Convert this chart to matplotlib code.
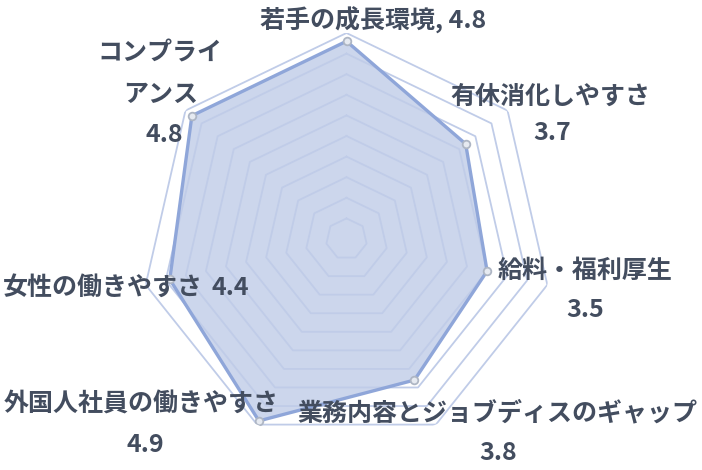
import numpy as np
import matplotlib
matplotlib.use("Agg")
import matplotlib.pyplot as plt

plt.rcParams['font.family'] = ['Noto Sans CJK JP', 'DejaVu Sans']

categories = ["若手の成長環境", "有休消化しやすさ", "給料・福利厚生",
              "業務内容とジョブディスのギャップ", "外国人社員の働きやすさ",
              "女性の働きやすさ", "コンプライアンス"]
values = [4.8, 3.7, 3.5, 3.8, 4.9, 4.4, 4.8]
ring_levels = [0.5, 1.0, 1.5, 2.0, 2.5, 3.0, 3.5, 4.0, 4.5, 5.0]
r_max = 5.0

W, H = 702, 470
fig = plt.figure(figsize=(W / 100, H / 100), dpi=100)
cx, cy, R = 346.5, 239, 206
ax = fig.add_axes([(cx - R) / W, 1 - (cy + R) / H, 2 * R / W, 2 * R / H], projection='polar')
ax.set_theta_offset(np.pi / 2)
ax.set_theta_direction(-1)
ax.set_ylim(0, r_max)
ax.set_xticks([])
ax.set_yticks([])
ax.grid(False)
ax.spines['polar'].set_visible(False)
ax.patch.set_alpha(0)

n = len(categories)
angles = np.linspace(0, 2 * np.pi, n, endpoint=False)
ang_closed = np.concatenate([angles, angles[:1]])
vals_closed = np.concatenate([values, values[:1]])

ax.fill(ang_closed, vals_closed, color='#ccd6ec', zorder=2, lw=0)
for lv in ring_levels:
    ax.plot(ang_closed, [lv] * (n + 1), color='#c0cce8', lw=1.3, zorder=3)
ax.plot(ang_closed, vals_closed, color='#8fa6d9', lw=2.4, zorder=4,
        solid_joinstyle='miter')
ax.plot(angles, values, 'o', ms=5.5, mfc='#e6eaf1', mec='#aeb6c4', mew=1.3, zorder=5)

tc = '#434d5f'
fs = 18
def t(x, y, s, ha='center'):
    fig.text(x / W, 1 - y / H, s, ha=ha, va='center', fontsize=fs,
             fontweight='bold', color=tc)

t(260, 20, f"{categories[0]}, {values[0]}", ha='left')
t(550, 97, categories[1]); t(552, 133, f"{values[1]}")
t(585, 271, categories[2]); t(585, 310, f"{values[2]}")
t(497, 413, categories[3]); t(498, 453, f"{values[3]}")
t(141, 405, categories[4]); t(145, 445, f"{values[4]}")
t(3, 288, categories[5], ha='left'); t(230, 288, f"{values[5]}")
t(160, 53, categories[6][:5]); t(161, 95, categories[6][5:]); t(164, 135, f"{values[6]}")

fig.savefig('out.png', dpi=100)
